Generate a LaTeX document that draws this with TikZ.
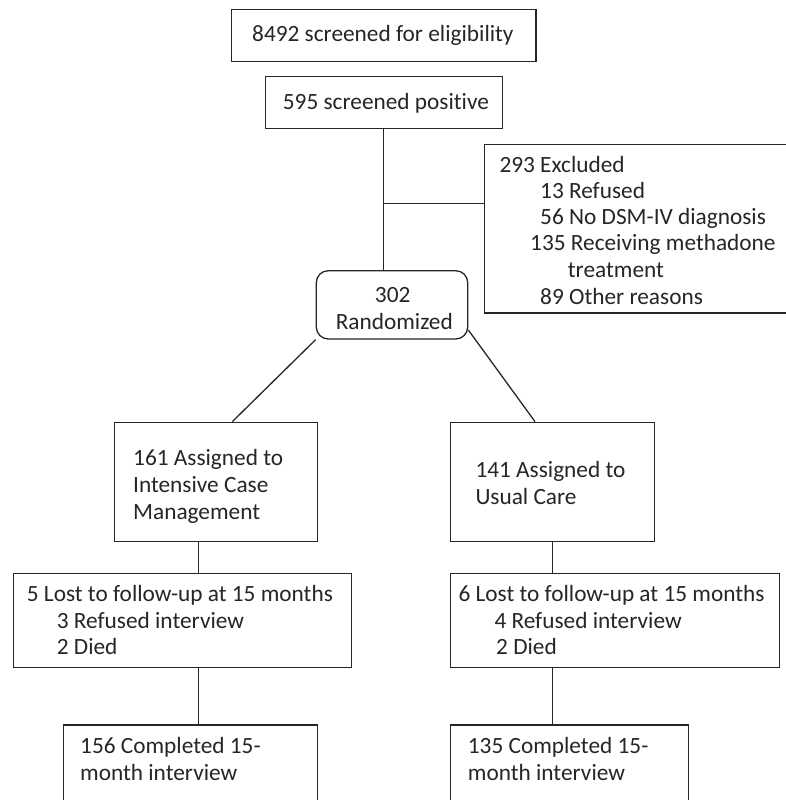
\documentclass[tikz,border=0pt]{standalone}
\usepackage{fontspec}
\setmainfont{Carlito}[Ligatures=NoCommon]
\begin{document}
\begin{tikzpicture}[x=1pt,y=-1pt,
  box/.style={draw=black!85, line width=1.3pt, rectangle, inner sep=0pt},
  rbox/.style={box, rounded corners=12pt},
  txt/.style={anchor=base west, inner sep=0pt, font=\fontsize{23.3}{28}\selectfont, text=black!85},
  ctxt/.style={txt, anchor=base},
  conn/.style={draw=black!85, line width=1.3pt}]
\clip (0,0) rectangle (786,800);
\fill[white] (0,0) rectangle (786,800);
% boxes
\node[box, minimum width=304.3pt, minimum height=52.4pt] (scr) at (383.85,35.5) {};
\node[box, minimum width=237pt, minimum height=52pt] (pos) at (384.2,102.7) {};
\node[box, minimum width=340pt, minimum height=168.8pt] (exc) at (654.3,228.6) {};
\node[rbox, minimum width=151.4pt, minimum height=68.3pt] (ran) at (392,304.85) {};
\node[box, minimum width=203pt, minimum height=119.4pt] (icm) at (216.2,482) {};
\node[box, minimum width=204pt, minimum height=119.4pt] (uc) at (552.3,482) {};
\node[box, minimum width=338pt, minimum height=93.6pt] (lostl) at (182.3,620.5) {};
\node[box, minimum width=329pt, minimum height=93.6pt] (lostr) at (614.8,620.5) {};
\node[box, minimum width=254.4pt, minimum height=120pt] (compl) at (190.5,785) {};
\node[box, minimum width=238pt, minimum height=120pt] (compr) at (569.3,785) {};
% texts
\node[txt] (t1) at (252,41.7) {8492 screened for eligibility};
\node[txt] (t2) at (282.7,109.3) {595 screened positive};
\node[txt] (e1) at (499.3,172.7) {293 Excluded};
\node[txt] (e2) at (540,198.3) {13 Refused};
\node[txt] (e3) at (540,224.3) {56 No DSM-IV diagnosis};
\node[txt] (e4) at (530,250.7) {135 Receiving methadone};
\node[txt] (e5) at (567.7,277.3) {treatment};
\node[txt] (e6) at (540,304) {89 Other reasons};
\node[ctxt] (r1) at (392.7,302.5) {302};
\node[ctxt] (r2) at (394.3,329.5) {Randomized};
\node[txt] (i1) at (133,465.7) {161 Assigned to};
\node[txt] (i2) at (133,492.7) {Intensive Case};
\node[txt] (i3) at (133,519.5) {Management};
\node[txt] (u1) at (475.3,477.3) {141 Assigned to};
\node[txt] (u2) at (475.3,504) {Usual Care};
\node[txt] (l1) at (26.7,601.7) {5 Lost to follow-up at 15 months};
\node[txt] (l2) at (56.7,628.3) {3 Refused interview};
\node[txt] (l3) at (56.7,654.3) {2 Died};
\node[txt] (m1) at (458.3,601.7) {6 Lost to follow-up at 15 months};
\node[txt] (m2) at (494.3,628.3) {4 Refused interview};
\node[txt] (m3) at (496,654.3) {2 Died};
\node[txt] (c1) at (80,753.3) {156 Completed 15-};
\node[txt] (c2) at (80,780) {month interview};
\node[txt] (d1) at (467.7,753.3) {135 Completed 15-};
\node[txt] (d2) at (467.7,780) {month interview};
% helper coordinates
\coordinate (xs) at (383.7,0);
\coordinate (j) at (383.7,203.7);
\coordinate (la) at (232.3,0);
\coordinate (ra) at (535,0);
\coordinate (rs) at (0,330);
\coordinate (xl) at (198.7,0);
\coordinate (xr) at (552.3,0);
% connectors
\draw[conn] (pos.south -| xs) -- (ran.north -| xs);
\draw[conn] (j) -- (j -| exc.west);
\draw[conn] (ran.south west) -- (icm.north -| la);
\draw[conn] (ran.east |- rs) -- (uc.north -| ra);
\draw[conn] (icm.south -| xl) -- (lostl.north -| xl);
\draw[conn] (lostl.south -| xl) -- (compl.north -| xl);
\draw[conn] (uc.south -| xr) -- (lostr.north -| xr);
\draw[conn] (lostr.south -| xr) -- (compr.north -| xr);
\end{tikzpicture}
\end{document}
